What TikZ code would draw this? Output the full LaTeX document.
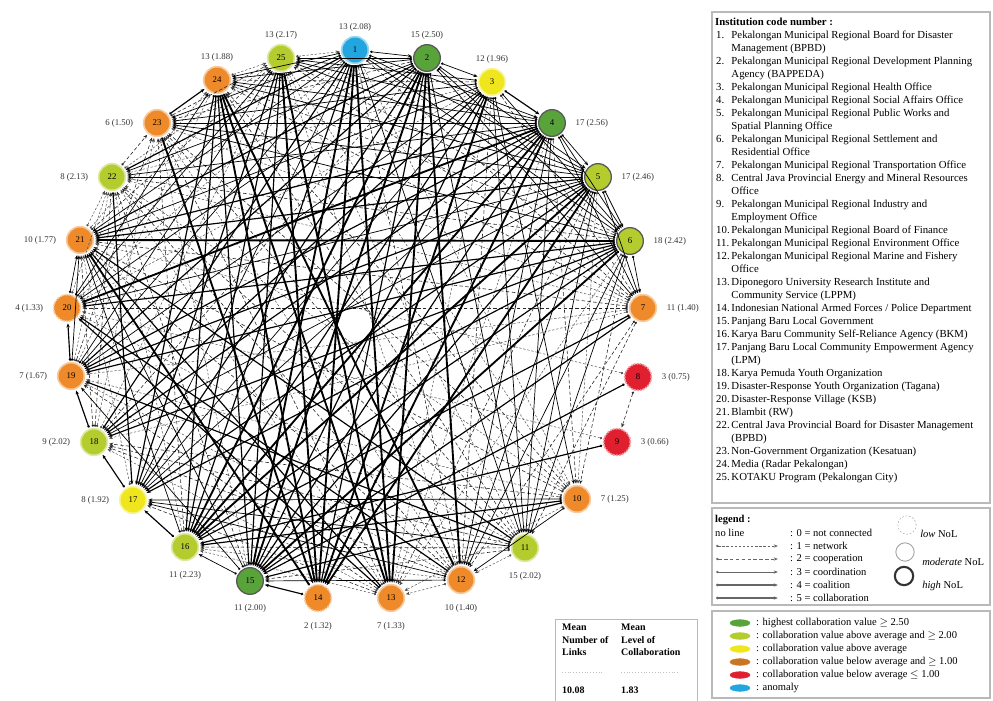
\documentclass[tikz,border=0pt]{standalone}
\usepackage{fontspec}
\setmainfont{Liberation Serif}
\usetikzlibrary{positioning,arrows.meta,shapes.geometric}

\definecolor{topgreen}{HTML}{58A33A}
\definecolor{avggreen}{HTML}{B5CC2E}
\definecolor{avgyellow}{HTML}{F0E61E}
\definecolor{lowamber}{HTML}{EE8A2A}
\definecolor{lowred}{HTML}{E0202E}
\definecolor{oddblue}{HTML}{22A6DF}

\begin{document}
\begin{tikzpicture}[
    x=0.03cm, y=-0.03cm,
    inst/.style={circle, minimum size=0.8cm, inner sep=0pt, line width=1.4pt, font=\fontsize{7.5}{8}\selectfont},
    highest/.style={inst, fill=topgreen, draw=topgreen!45},
    avghigh/.style={inst, fill=avggreen, draw=avggreen!45},
    avgup/.style={inst, fill=avgyellow, draw=avgyellow!45},
    avglow/.style={inst, fill=lowamber, draw=lowamber!45},
    lowest/.style={inst, fill=lowred, draw=lowred!45},
    anomaly/.style={inst, fill=oddblue, draw=oddblue!45},
    nolhigh/.style={draw=black!65, line width=1.1pt},
    nollow/.style={dash pattern=on 1.5pt off 1pt},
    lbl/.style={font=\fontsize{7.5}{8}\selectfont, text=black!80, inner sep=1pt},
    txt/.style={font=\fontsize{9.2}{11.1}\selectfont, inner sep=0pt, anchor=west},
    link/.style={{Circle[length=2pt]}-{Stealth[length=3.5pt,width=2.8pt]}, shorten <=1pt, shorten >=1pt},
    network/.style={link, line width=0.4pt, black!70, dash pattern=on 2pt off 1.5pt},
    cooperation/.style={link, line width=0.5pt, black!85, dash pattern=on 3pt off 2pt},
    coordination/.style={link, line width=0.6pt, black},
    coalition/.style={link, line width=1pt, black},
    collaboration/.style={link, line width=1.6pt, black},
    panel/.style={draw=gray!55, line width=1pt}
]
\useasboundingbox (0,0) rectangle (993,700);

% Institutions
\node[anomaly] (n1) at (355,50) {1};
\node[highest, nolhigh] (n2) at (427,58) {2};
\node[avgup] (n3) at (492,82) {3};
\node[highest, nolhigh] (n4) at (552,123) {4};
\node[avghigh, nolhigh] (n5) at (598,177) {5};
\node[avghigh, nolhigh] (n6) at (630,241) {6};
\node[avglow] (n7) at (643,308) {7};
\node[lowest, nollow] (n8) at (638,377) {8};
\node[lowest, nollow] (n9) at (617,442) {9};
\node[avglow] (n10) at (577,499) {10};
\node[avghigh] (n11) at (525,548) {11};
\node[avglow] (n12) at (461,580) {12};
\node[avglow] (n13) at (391,598) {13};
\node[avglow, nollow] (n14) at (318,598) {14};
\node[highest, nolhigh] (n15) at (250,581) {15};
\node[avghigh] (n16) at (185,547) {16};
\node[avgup] (n17) at (133,500) {17};
\node[avghigh] (n18) at (94,442) {18};
\node[avglow] (n19) at (71,376) {19};
\node[avglow, nollow] (n20) at (67,308) {20};
\node[avglow] (n21) at (80,240) {21};
\node[avghigh] (n22) at (112,177) {22};
\node[avglow] (n23) at (157,123) {23};
\node[avglow] (n24) at (217,80) {24};
\node[avghigh] (n25) at (281,58) {25};

% Number of links (level of collaboration)
\node[lbl, above=0.1cm of n1] (l1) {13 (2.08)};
\node[lbl, above=0.1cm of n2] (l2) {15 (2.50)};
\node[lbl, above=0.1cm of n3] (l3) {12 (1.96)};
\node[lbl, right=0.25cm of n4] (l4) {17 (2.56)};
\node[lbl, right=0.25cm of n5] (l5) {17 (2.46)};
\node[lbl, right=0.25cm of n6] (l6) {18 (2.42)};
\node[lbl, right=0.25cm of n7] (l7) {11 (1.40)};
\node[lbl, right=0.25cm of n8] (l8) {3 (0.75)};
\node[lbl, right=0.25cm of n9] (l9) {3 (0.66)};
\node[lbl, right=0.25cm of n10] (l10) {7 (1.25)};
\node[lbl, below=0.25cm of n11] (l11) {15 (2.02)};
\node[lbl, below=0.25cm of n12] (l12) {10 (1.40)};
\node[lbl, below=0.25cm of n13] (l13) {7 (1.33)};
\node[lbl, below=0.25cm of n14] (l14) {2 (1.32)};
\node[lbl, below=0.25cm of n15] (l15) {11 (2.00)};
\node[lbl, below=0.25cm of n16] (l16) {11 (2.23)};
\node[lbl, left=0.25cm of n17] (l17) {8 (1.92)};
\node[lbl, left=0.25cm of n18] (l18) {9 (2.02)};
\node[lbl, left=0.25cm of n19] (l19) {7 (1.67)};
\node[lbl, left=0.25cm of n20] (l20) {4 (1.33)};
\node[lbl, left=0.25cm of n21] (l21) {10 (1.77)};
\node[lbl, left=0.25cm of n22] (l22) {8 (2.13)};
\node[lbl, left=0.25cm of n23] (l23) {6 (1.50)};
\node[lbl, above=0.1cm of n24] (l24) {13 (1.88)};
\node[lbl, above=0.1cm of n25] (l25) {13 (2.17)};

% Links by level
\foreach \a/\b in {25/1, 11/12, 12/13, 21/22, 24/25, 8/21, 9/20, 18/25, 7/22, 10/22, 11/25, 13/22, 12/25,
    3/20, 3/22, 7/18, 7/19, 7/23, 10/19, 10/25, 12/16, 12/19, 13/16, 13/18, 15/23, 16/22, 17/21, 18/23,
    19/22, 21/24, 22/25, 19/24, 20/22, 1/10, 1/20, 3/13, 4/13, 5/10, 6/13, 11/20, 12/23, 10/13}
    \draw[network] (n\a) -- (n\b);
\foreach \a/\b in {8/9, 22/23, 6/22, 6/24, 6/25, 7/11, 7/12, 7/21, 7/25, 10/18, 10/21, 10/24, 11/16, 11/18, 11/22,
    11/24, 12/21, 13/23, 3/24, 7/20, 7/24, 10/23, 12/18, 12/22, 13/17, 13/19, 15/22, 16/23, 18/22, 19/23,
    21/25, 23/25, 18/21, 2/18, 2/23, 1/7, 1/12, 3/7, 3/12, 4/10, 5/13, 6/10, 11/15, 11/23}
    \draw[cooperation] (n\a) -- (n\b);
\foreach \a/\b in {1/2, 2/3, 4/5, 5/6, 6/7, 15/16, 20/21, 1/4, 1/5, 1/6, 1/11, 1/21, 1/24, 2/5, 2/6, 2/7, 2/11,
    2/22, 2/24, 2/25, 3/6, 3/10, 3/11, 3/21, 3/23, 3/25, 4/6, 4/7, 4/11, 4/12, 4/22, 4/24, 4/25, 5/7, 5/11,
    5/12, 5/22, 5/23, 5/24, 5/25, 6/11, 6/12, 16/21, 19/21, 19/25, 20/24, 20/25, 2/20, 1/17, 1/19, 1/23,
    3/17, 3/19, 4/17, 4/23, 5/18, 5/20, 6/23, 11/17, 12/15, 12/17, 10/12, 10/17, 15/21, 15/19}
    \draw[coordination] (n\a) -- (n\b);
\foreach \a/\b in {3/4, 14/15, 16/17, 17/18, 18/19, 19/20, 23/24, 1/16, 1/18, 1/22, 2/17, 2/19, 2/21, 3/15, 3/16,
    3/18, 4/15, 4/18, 4/19, 4/21, 5/15, 5/17, 5/19, 5/21, 6/16, 6/17, 6/18, 6/19, 6/20, 7/15, 7/16, 11/19,
    11/21, 10/15, 10/16, 13/20, 25/17, 24/17, 22/17, 8/15, 9/16, 13/21, 12/20, 2/14, 25/16, 24/16, 25/15, 24/15}
    \draw[coalition] (n\a) -- (n\b);
\foreach \a/\b in {1/14, 1/13, 25/14, 24/14, 2/15, 1/15, 4/14, 5/14, 3/14, 24/12, 6/21, 4/20, 25/13, 2/16, 5/16,
    23/14, 4/16, 6/15, 24/13, 2/12, 14/21, 2/13}
    \draw[collaboration] (n\a) -- (n\b);

% Institution code number
\draw[panel] (712,12) rectangle (990,503);
\node[txt, font=\fontsize{9.2}{11.1}\selectfont\bfseries] (codetitle) at (715,22) {Institution code number :};
\node[txt, anchor=north west] (codes) at (716,29) {%
\begin{tabular}{@{}l@{\hspace{1.5pt}}l@{}}
1. & Pekalongan Municipal Regional Board for Disaster\\
 & Management (BPBD)\\
2. & Pekalongan Municipal Regional Development Planning\\
 & Agency (BAPPEDA)\\
3. & Pekalongan Municipal Regional Health Office\\
4. & Pekalongan Municipal Regional Social Affairs Office\\
5. & Pekalongan Municipal Regional Public Works and\\
 & Spatial Planning Office\\
6. & Pekalongan Municipal Regional Settlement and\\
 & Residential Office\\
7. & Pekalongan Municipal Regional Transportation Office\\
8. & Central Java Provincial Energy and Mineral Resources\\
 & Office\\
9. & Pekalongan Municipal Regional Industry and\\
 & Employment Office\\
10. & Pekalongan Municipal Regional Board of Finance\\
11. & Pekalongan Municipal Regional Environment Office\\
12. & Pekalongan Municipal Regional Marine and Fishery\\
 & Office\\
13. & Diponegoro University Research Institute and\\
 & Community Service (LPPM)\\
14. & Indonesian National Armed Forces / Police Department\\
15. & Panjang Baru Local Government\\
16. & Karya Baru Community Self-Reliance Agency (BKM)\\
17. & Panjang Baru Local Community Empowerment Agency\\
 & (LPM)\\
18. & Karya Pemuda Youth Organization\\
19. & Disaster-Response Youth Organization (Tagana)\\
20. & Disaster-Response Village (KSB)\\
21. & Blambit (RW)\\
22. & Central Java Provincial Board for Disaster Management\\
 & (BPBD)\\
23. & Non-Government Organization (Kesatuan)\\
24. & Media (Radar Pekalongan)\\
25. & KOTAKU Program (Pekalongan City)
\end{tabular}};

% Legend
\draw[panel] (712,508) rectangle (990,605);
\node[txt, font=\fontsize{9}{10}\selectfont\bfseries] (legtitle) at (715,520) {legend :};
\node[txt, font=\fontsize{9}{10}\selectfont] (noline) at (715,533) {no line};
\foreach \s/\y in {network/546, cooperation/559, coordination/572, coalition/585, collaboration/598}
    \draw[\s, draw=black!60] (715,\y) -- (779,\y);
\node[txt, font=\fontsize{9}{10}\selectfont] (lev0) at (790,533) {: 0 = not connected};
\node[txt, font=\fontsize{9}{10}\selectfont] (lev1) at (790,546) {: 1 = network};
\node[txt, font=\fontsize{9}{10}\selectfont] (lev2) at (790,559) {: 2 = cooperation};
\node[txt, font=\fontsize{9}{10}\selectfont] (lev3) at (790,572) {: 3 = coordination};
\node[txt, font=\fontsize{9}{10}\selectfont] (lev4) at (790,585) {: 4 = coalition};
\node[txt, font=\fontsize{9}{10}\selectfont] (lev5) at (790,598) {: 5 = collaboration};
\node[circle, draw=gray!70, dash pattern=on 1.5pt off 1.5pt, minimum size=0.55cm] (lowc) at (907,525) {};
\node[circle, draw=gray!70, line width=0.8pt, minimum size=0.55cm] (modc) at (905,552) {};
\node[circle, draw=black!80, line width=1.8pt, minimum size=0.55cm] (highc) at (904,576) {};
\node[txt, font=\fontsize{9}{10}\selectfont\itshape] (lowt) at (920,534) {low \textup{NoL}};
\node[txt, font=\fontsize{9}{10}\selectfont\itshape] (modt) at (922,562) {moderate \textup{NoL}};
\node[txt, font=\fontsize{9}{10}\selectfont\itshape] (hight) at (922,586) {high \textup{NoL}};

% Colour key
\draw[panel] (712,611) rectangle (990,698);
\foreach \c/\y in {topgreen/623, avggreen/636, avgyellow/649, lowamber!85!black/662, lowred/675, oddblue/688}
    \node[ellipse, fill=\c, draw=\c, minimum width=0.6cm, minimum height=0.2cm, inner sep=0pt] at (740,\y) {};
\node[txt, font=\fontsize{9}{10}\selectfont] (key1) at (756,623) {: highest collaboration value $\geq$ 2.50};
\node[txt, font=\fontsize{9}{10}\selectfont] (key2) at (756,636) {: collaboration value above average and $\geq$ 2.00};
\node[txt, font=\fontsize{9}{10}\selectfont] (key3) at (756,649) {: collaboration value above average};
\node[txt, font=\fontsize{9}{10}\selectfont] (key4) at (756,662) {: collaboration value below average and $\geq$ 1.00};
\node[txt, font=\fontsize{9}{10}\selectfont] (key5) at (756,675) {: collaboration value below average $\leq$ 1.00};
\node[txt, font=\fontsize{9}{10}\selectfont] (key6) at (756,688) {: anomaly};

% Means
\draw[panel, line width=0.6pt] (555,619) rectangle (697,704);
\node[txt, anchor=north west, align=left, font=\fontsize{8.5}{10.5}\selectfont\bfseries] (meanlinks) at (562,624) {Mean\\Number of\\Links};
\node[txt, anchor=north west, align=left, font=\fontsize{8.5}{10.5}\selectfont\bfseries] (meanlevel) at (621,624) {Mean\\Level of\\Collaboration};
\draw[gray!50, dotted] (562,672) -- (604,672);
\draw[gray!50, dotted] (621,672) -- (680,672);
\node[txt, font=\fontsize{8.5}{10}\selectfont\bfseries] (links) at (562,690) {10.08};
\node[txt, font=\fontsize{8.5}{10}\selectfont\bfseries] (level) at (621,690) {1.83};

\end{tikzpicture}
\end{document}
